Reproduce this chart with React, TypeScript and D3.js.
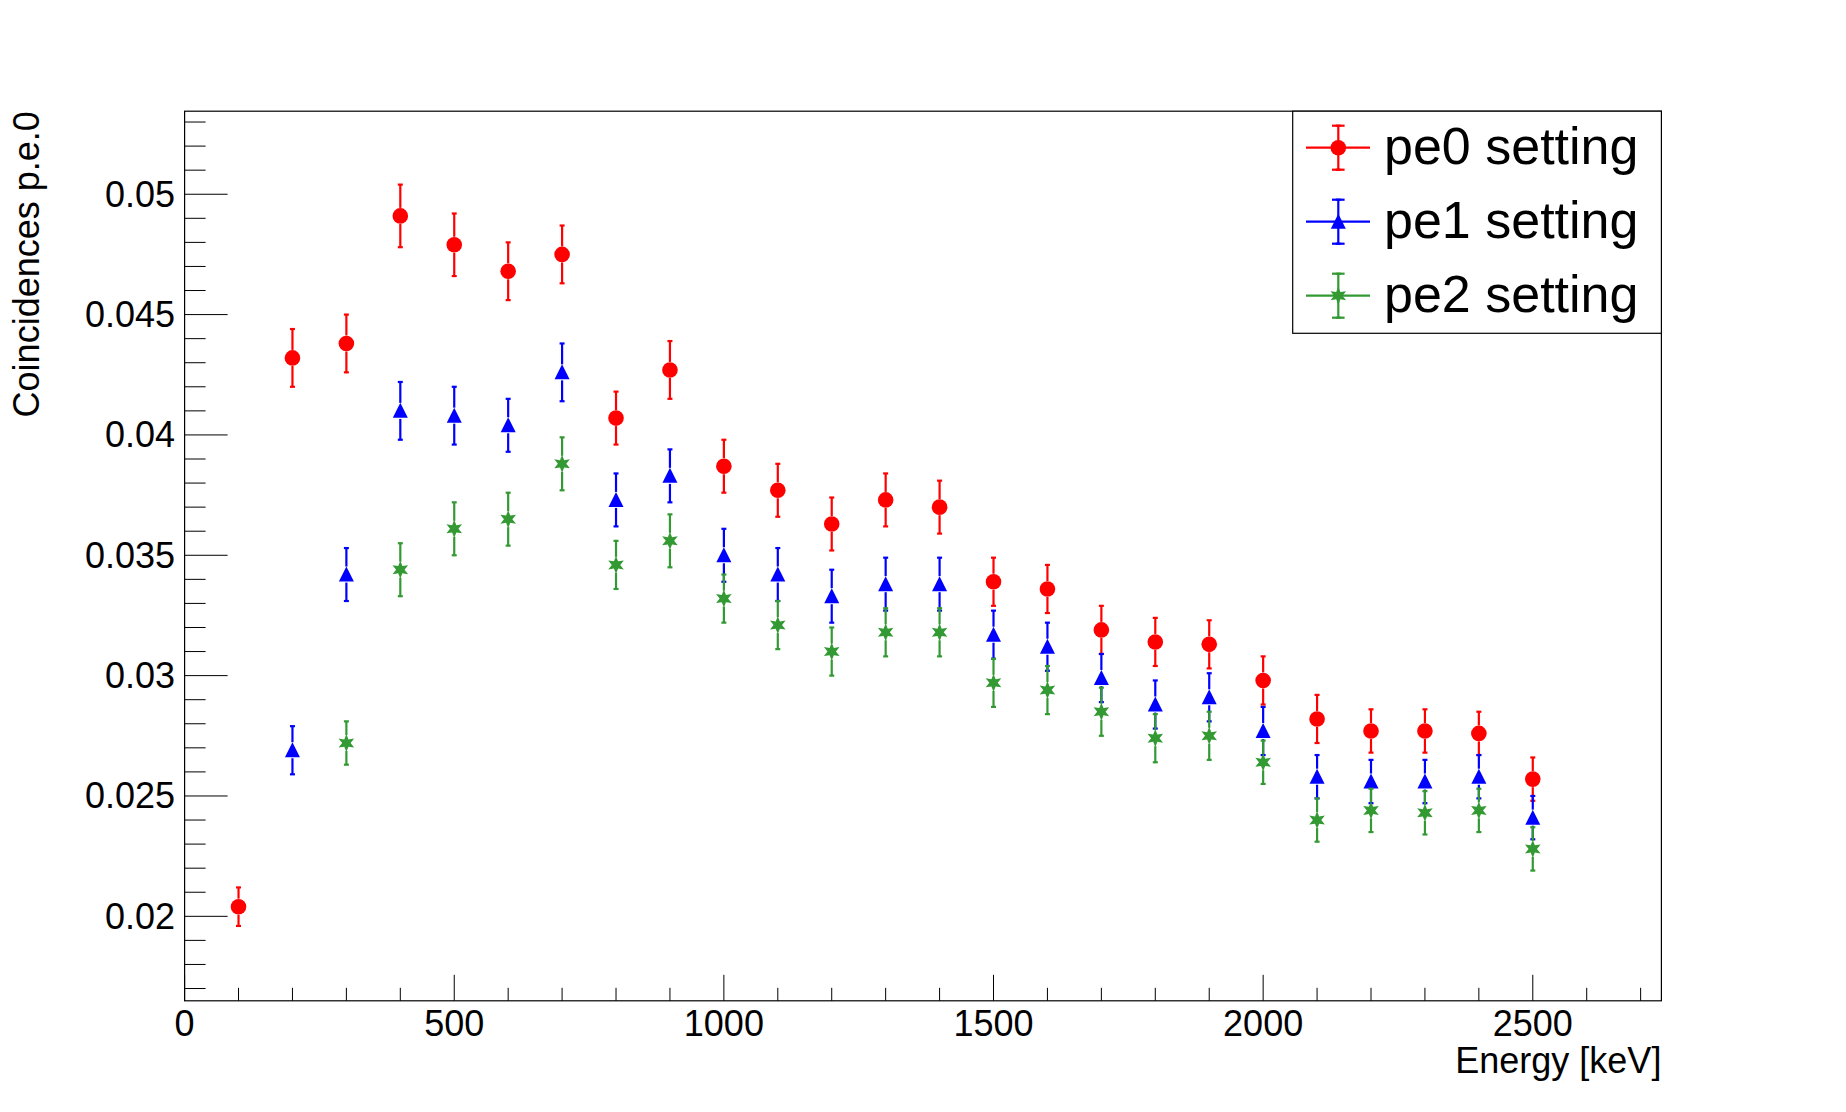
import React from "react";
import * as d3 from "d3";

// energies in keV
const energyPe0 = [100, 200, 300, 400, 500, 600, 700, 800, 900, 1000, 1100, 1200, 1300, 1400, 1500, 1600, 1700, 1800, 1900, 2000, 2100, 2200, 2300, 2400, 2500];
const valuesPe0 = [0.0204, 0.0432, 0.0438, 0.0491, 0.0479, 0.0468, 0.0475, 0.0407, 0.0427, 0.0387, 0.0377, 0.0363, 0.0373, 0.0370, 0.0339, 0.0336, 0.0319, 0.0314, 0.0313, 0.0298, 0.0282, 0.0277, 0.0277, 0.0276, 0.0257];
const errorsPe0 = [0.0008, 0.0012, 0.0012, 0.0013, 0.0013, 0.0012, 0.0012, 0.0011, 0.0012, 0.0011, 0.0011, 0.0011, 0.0011, 0.0011, 0.0010, 0.0010, 0.0010, 0.0010, 0.0010, 0.0010, 0.0010, 0.0009, 0.0009, 0.0009, 0.0009];

const energyPe1 = [200, 300, 400, 500, 600, 700, 800, 900, 1000, 1100, 1200, 1300, 1400, 1500, 1600, 1700, 1800, 1900, 2000, 2100, 2200, 2300, 2400, 2500];
const valuesPe1 = [0.0269, 0.0342, 0.0410, 0.0408, 0.0404, 0.0426, 0.0373, 0.0383, 0.0350, 0.0342, 0.0333, 0.0338, 0.0338, 0.0317, 0.0312, 0.0299, 0.0288, 0.0291, 0.0277, 0.0258, 0.0256, 0.0256, 0.0258, 0.0241];
const errorsPe1 = [0.0010, 0.0011, 0.0012, 0.0012, 0.0011, 0.0012, 0.0011, 0.0011, 0.0011, 0.0011, 0.0011, 0.0011, 0.0011, 0.0010, 0.0010, 0.0010, 0.0010, 0.0010, 0.0010, 0.0009, 0.0009, 0.0009, 0.0009, 0.0009];

const energyPe2 = [300, 400, 500, 600, 700, 800, 900, 1000, 1100, 1200, 1300, 1400, 1500, 1600, 1700, 1800, 1900, 2000, 2100, 2200, 2300, 2400, 2500];
const valuesPe2 = [0.0272, 0.0344, 0.0361, 0.0365, 0.0388, 0.0346, 0.0356, 0.0332, 0.0321, 0.0310, 0.0318, 0.0318, 0.0297, 0.0294, 0.0285, 0.0274, 0.0275, 0.0264, 0.0240, 0.0244, 0.0243, 0.0244, 0.0228];
const errorsPe2 = [0.0009, 0.0011, 0.0011, 0.0011, 0.0011, 0.0010, 0.0011, 0.0010, 0.0010, 0.0010, 0.0010, 0.0010, 0.0010, 0.0010, 0.0010, 0.0010, 0.0010, 0.0009, 0.0009, 0.0009, 0.0009, 0.0009, 0.0009];

const xTickValues = [0, 500, 1000, 1500, 2000, 2500];
const yTickValues = [0.02, 0.025, 0.03, 0.035, 0.04, 0.045, 0.05];
const yTickLabels = ["0.02", "0.025", "0.03", "0.035", "0.04", "0.045", "0.05"];

const W = 1846;
const H = 1112;
const frame = { left: 184.6, right: 1661.4, top: 111.2, bottom: 1000.8 };
const FONT = "'Liberation Sans', Arial, Helvetica, sans-serif";

const x = d3.scaleLinear().domain([0, 2738.5]).range([frame.left, frame.right]);
const y = d3.scaleLinear().domain([0.01649, 0.05345]).range([frame.bottom, frame.top]);

type Shape = "circle" | "triangle" | "star";

// six-pointed star, close to ROOT's marker used for the green series
const starPath = (() => {
  const pts: [number, number][] = [];
  for (let i = 0; i < 12; i++) {
    const a = (Math.PI / 6) * i - Math.PI / 2;
    const r = i % 2 === 0 ? 9 : 4.2;
    pts.push([r * Math.cos(a), r * Math.sin(a)]);
  }
  return d3.line()(pts) + "Z";
})();

function Marker({ shape, color, cx, cy }: { shape: Shape; color: string; cx: number; cy: number }) {
  if (shape === "circle") return <circle cx={cx} cy={cy} r={7.8} fill={color} />;
  if (shape === "triangle")
    return <path d={`M${cx},${cy - 8}L${cx + 7.5},${cy + 7}L${cx - 7.5},${cy + 7}Z`} fill={color} />;
  return <path d={starPath} transform={`translate(${cx},${cy})`} fill={color} />;
}

function ErrorBar({ color, cx, cy, top, bottom, gap }: { color: string; cx: number; cy: number; top: number; bottom: number; gap: number }) {
  return (
    <g stroke={color} strokeWidth={2.2}>
      {cy - gap > top && <line x1={cx} x2={cx} y1={top} y2={cy - gap} />}
      {cy + gap < bottom && <line x1={cx} x2={cx} y1={cy + gap} y2={bottom} />}
      <line x1={cx - 2.5} x2={cx + 2.5} y1={top} y2={top} />
      <line x1={cx - 2.5} x2={cx + 2.5} y1={bottom} y2={bottom} />
    </g>
  );
}

const series = [
  { name: "pe0 setting", color: "#ff0000", shape: "circle" as Shape, xs: energyPe0, ys: valuesPe0, es: errorsPe0 },
  { name: "pe1 setting", color: "#0000ff", shape: "triangle" as Shape, xs: energyPe1, ys: valuesPe1, es: errorsPe1 },
  { name: "pe2 setting", color: "#339933", shape: "star" as Shape, xs: energyPe2, ys: valuesPe2, es: errorsPe2 },
];

export default function App() {
  const xMinor = d3.range(0, 2701, 100);
  const yMinor = d3.range(17, 54).map((v) => v / 1000);

  return (
    <svg width={W} height={H} style={{ position: "absolute", left: 0, top: 0, background: "#fff" }} fontFamily={FONT}>
      <rect width={W} height={H} fill="#fff" />

      {/* ticks */}
      <g stroke="#000" strokeWidth={1}>
        {xMinor.map((v) => (
          <line key={"xm" + v} x1={x(v)} x2={x(v)} y1={frame.bottom} y2={frame.bottom - (v % 500 === 0 ? 26 : 13)} />
        ))}
        {yMinor.map((v) => {
          const major = Math.round(v * 1000) % 5 === 0;
          return <line key={"ym" + v} x1={frame.left} x2={frame.left + (major ? 43 : 21)} y1={y(v)} y2={y(v)} />;
        })}
      </g>

      {/* tick labels */}
      <g fontSize={36} fill="#000">
        {xTickValues.map((v) => (
          <text key={"xl" + v} x={x(v)} y={1036} textAnchor="middle">
            {v}
          </text>
        ))}
        {yTickValues.map((v, i) => (
          <text key={"yl" + v} x={175} y={y(v)} textAnchor="end" dominantBaseline="central">
            {yTickLabels[i]}
          </text>
        ))}
      </g>

      {/* axis titles */}
      <text x={frame.right} y={1073} textAnchor="end" fontSize={36}>
        Energy [keV]
      </text>
      <text transform={`translate(39,${frame.top}) rotate(-90)`} textAnchor="end" fontSize={36}>
        Coincidences p.e.0
      </text>

      {/* data */}
      {series.map((s) => (
        <g key={s.name}>
          {s.xs.map((e, i) => {
            const cx = x(e);
            const cy = y(s.ys[i]);
            return (
              <g key={e}>
                <ErrorBar color={s.color} cx={cx} cy={cy} top={y(s.ys[i] + s.es[i])} bottom={y(s.ys[i] - s.es[i])} gap={8} />
                <Marker shape={s.shape} color={s.color} cx={cx} cy={cy} />
              </g>
            );
          })}
        </g>
      ))}

      {/* frame */}
      <rect x={frame.left} y={frame.top} width={frame.right - frame.left} height={frame.bottom - frame.top} fill="none" stroke="#000" strokeWidth={1.2} />

      {/* legend */}
      <g>
        <rect x={1292.7} y={frame.top} width={frame.right - 1292.7} height={333.3 - frame.top} fill="#fff" stroke="#000" strokeWidth={1.2} />
        {series.map((s, i) => {
          const ly = 147.7 + i * 74;
          return (
            <g key={"lg" + s.name}>
              <line x1={1306} x2={1370} y1={ly} y2={ly} stroke={s.color} strokeWidth={2.2} />
              <ErrorBar color={s.color} cx={1338.3} cy={ly} top={ly - 22} bottom={ly + 22} gap={0} />
              <line x1={1332} x2={1344.6} y1={ly - 22} y2={ly - 22} stroke={s.color} strokeWidth={2.2} />
              <line x1={1332} x2={1344.6} y1={ly + 22} y2={ly + 22} stroke={s.color} strokeWidth={2.2} />
              <Marker shape={s.shape} color={s.color} cx={1338.3} cy={ly} />
              <text x={1384} y={ly - 2} dominantBaseline="central" fontSize={52} fill="#000">
                {s.name}
              </text>
            </g>
          );
        })}
      </g>
    </svg>
  );
}
